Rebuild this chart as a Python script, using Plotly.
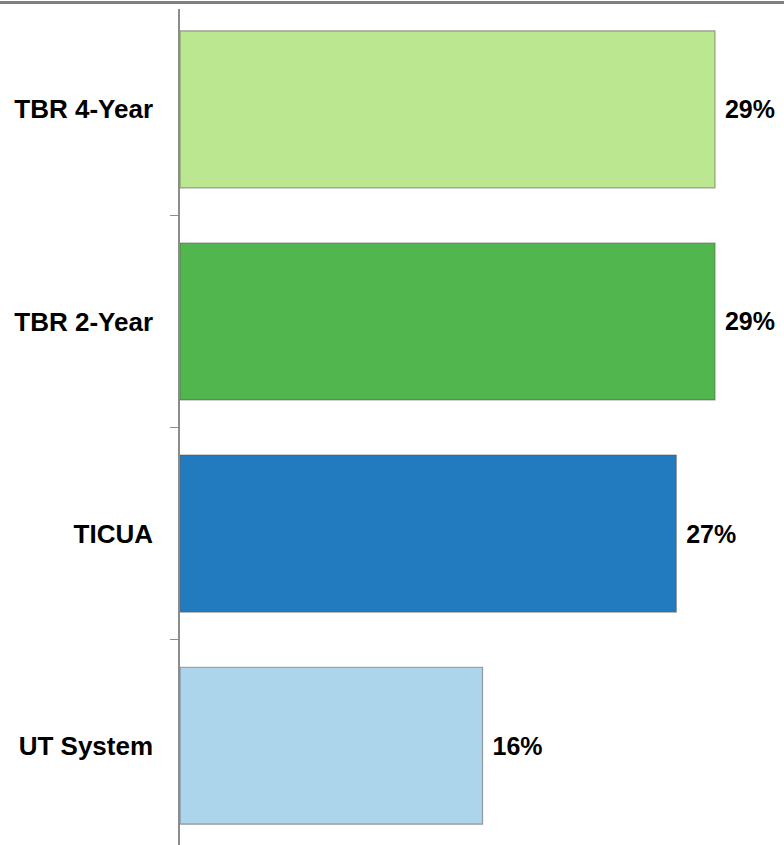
import plotly.graph_objects as go

categories = ["TBR 4-Year", "TBR 2-Year", "TICUA", "UT System"]
values = [0.29, 0.29, 0.269, 0.164]
colors = ["#BAE790", "#52B64E", "#217BBE", "#ACD4EB"]

W, H = 784, 845
ml, mr, mt, mb = 180, 0, 9, 0
plot_w = W - ml - mr
plot_h = H - mt - mb

fig = go.Figure()
fig.add_trace(go.Bar(
    y=categories, x=values, orientation="h",
    marker=dict(color=colors, line=dict(color="rgba(90,90,90,0.55)", width=1.2)),
    text=values, texttemplate="\u00a0%{x:.0%}", textposition="outside",
    textfont=dict(family="Liberation Sans", size=25, color="#000000", weight="bold"),
    cliponaxis=False, width=0.74, hoverinfo="skip",
))

fig.update_layout(
    width=W, height=H,
    margin=dict(l=ml, r=mr, t=mt, b=mb),
    paper_bgcolor="white", plot_bgcolor="white",
    showlegend=False,
    xaxis=dict(range=[0, 0.3274], showgrid=False, zeroline=False,
               showticklabels=False, showline=False, fixedrange=True),
    yaxis=dict(autorange=False, range=[3.468, -0.473], type="category",
               categoryorder="array", categoryarray=categories,
               showline=True, linecolor="#8C8C8C", linewidth=1.5,
               ticks="outside", tickson="boundaries", ticklen=8,
               tickcolor="#8C8C8C", tickwidth=1,
               ticklabelstandoff=20,
               tickfont=dict(family="Liberation Sans", size=26, color="#000000", weight="bold"),
               showgrid=False, zeroline=False, fixedrange=True),
    shapes=[dict(type="line", xref="paper", yref="paper",
                 x0=-ml / plot_w, x1=1, y0=1 + 6.5 / plot_h, y1=1 + 6.5 / plot_h,
                 line=dict(color="#808080", width=3))],
)

fig.write_html("out.html", config={"displayModeBar": False},
               post_script="document.body.style.margin='0';document.body.style.overflow='hidden';")
